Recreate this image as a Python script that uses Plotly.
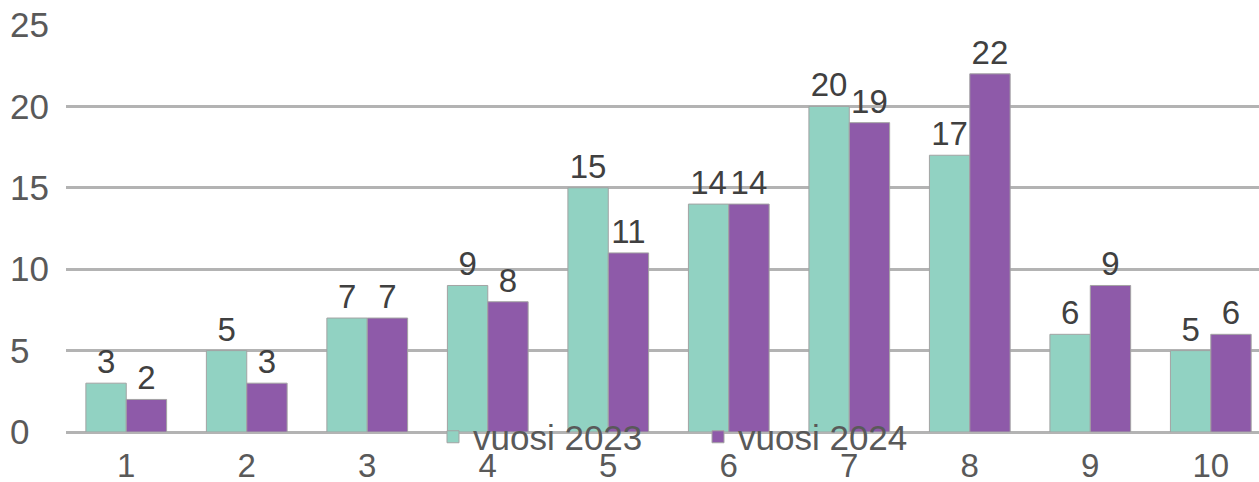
import plotly.graph_objects as go

# Data
categories = [1, 2, 3, 4, 5, 6, 7, 8, 9, 10]
vuosi_2023 = [3, 5, 7, 9, 15, 14, 20, 17, 6, 5]
vuosi_2024 = [2, 3, 7, 8, 11, 14, 19, 22, 9, 6]
y_ticks = [0, 5, 10, 15, 20, 25]
y_tick_text = ["0\u00a0\u00a0", "5\u00a0\u00a0", "10", "15", "20", "25"]

TEAL = "#91d2c2"
PURPLE = "#8e5aa9"
EDGE = "#a3a3a3"
FONT = "Liberation Sans, Arial, sans-serif"

fig = go.Figure()
for name, vals, color in [("vuosi 2023", vuosi_2023, TEAL),
                          ("vuosi 2024", vuosi_2024, PURPLE)]:
    fig.add_trace(go.Bar(
        x=categories, y=vals, name=name,
        marker=dict(color=color, line=dict(color=EDGE, width=1)),
        text=[str(v) for v in vals],
        textposition="outside",
        constraintext="none",
        cliponaxis=False,
        textfont=dict(size=33, color="#404040", family=FONT),
        hoverinfo="skip",
    ))

fig.update_xaxes(
    range=[0.5, 10.4],
    tickvals=categories,
    ticktext=[str(c) for c in categories],
    showgrid=False, zeroline=False, showline=False,
    ticklabelstandoff=11,
    tickfont=dict(size=33, color="#595959", family=FONT),
    ticks="",
)
fig.update_yaxes(
    range=[0, 25],
    tickvals=y_ticks,
    ticktext=y_tick_text,
    showgrid=True, gridcolor="#b3b3b3", gridwidth=2.5,
    zeroline=True, zerolinecolor="#b3b3b3", zerolinewidth=2.5,
    showline=False, ticks="",
    ticklabelstandoff=16,
    tickfont=dict(size=35, color="#595959", family=FONT),
)
fig.update_layout(
    width=1259, height=482,
    margin=dict(l=66, r=0, t=25, b=50, autoexpand=False),
    barmode="group",
    bargap=0.33,
    bargroupgap=0,
    plot_bgcolor="white",
    paper_bgcolor="white",
    font=dict(family=FONT, color="#595959"),
    showlegend=True,
    legend=dict(
        orientation="h",
        xref="container", yref="container",
        x=433 / 1259, xanchor="left",
        y=(482 - 437) / 482, yanchor="middle",
        bgcolor="rgba(0,0,0,0)",
        entrywidth=220, entrywidthmode="pixels",
        font=dict(size=35, color="#595959", family=FONT),
    ),
)

fig.write_html(
    "out.html",
    config={"displayModeBar": False},
    post_script="document.body.style.margin = '0';",
)
